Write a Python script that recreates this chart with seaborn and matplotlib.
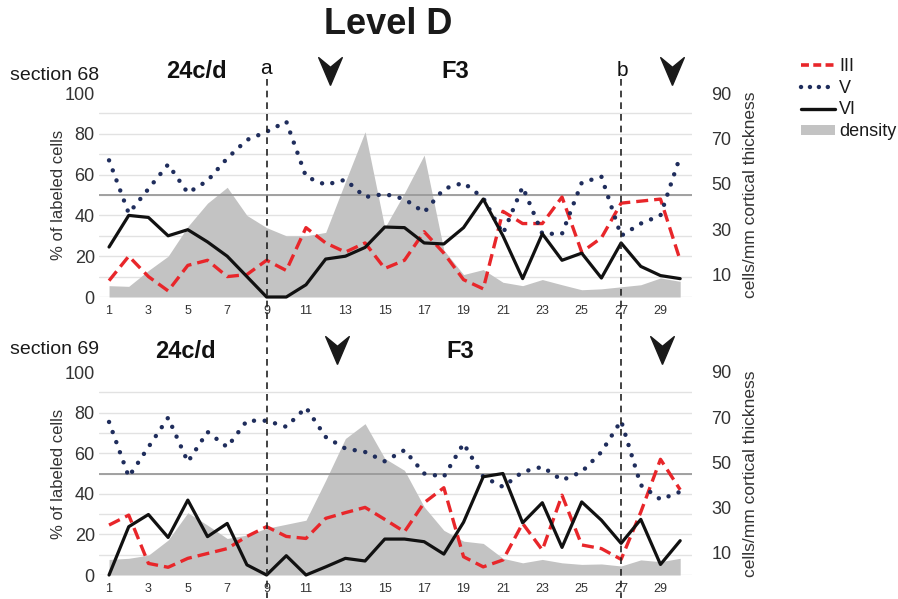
import numpy as np
import pandas as pd
import matplotlib
matplotlib.use("Agg")
import matplotlib.pyplot as plt
import seaborn as sns
from matplotlib.lines import Line2D
from matplotlib.patches import Patch
from matplotlib import transforms

# ---------------- data ----------------
positions = list(range(1, 31))
xtick_labels = list(range(1, 30, 2))

top_III = [8, 20, 10, 3, 15.5, 18, 10, 11, 18, 13, 34, 26.5, 22, 26.5, 14, 18, 32, 21.5, 8.5, 4,
           42, 36, 36, 49, 22, 29, 46, 47, 48, 18]
top_V = [67, 41, 53, 65, 51, 57, 68, 77, 81, 86, 59, 55, 57.5, 49, 50.5, 48, 41.5, 53, 56, 48.5,
         31, 54, 31, 31, 56, 59, 30, 36, 40, 69]
top_VI = [24.5, 40, 39, 30, 33, 27, 20, 10, 0, 0, 6, 18.6, 20, 24.3, 34.3, 34, 26.5, 26, 34, 48,
          30, 9, 31, 18, 21.5, 9.3, 26.5, 15, 10.5, 9]
top_density = [5.0, 4.7, 11.7, 18, 31.1, 41.4, 48.4, 36, 30.6, 27, 27, 28.5, 50.9, 72.9, 30.6,
               45.9, 62.6, 20.7, 9.9, 12.1, 6.5, 5.0, 7.7, 5.4, 3.2, 3.6, 4.5, 5.4, 8.4, 6.9]

bot_III = [24.6, 29.5, 5.7, 3.8, 8.2, 10.6, 13, 19, 23.8, 19, 18, 27.9, 30.7, 33.3, 27.4, 21.3,
           35.6, 43, 9, 4, 7.4, 25.4, 12.3, 39.3, 14.8, 13, 7.7, 31, 57, 42]
bot_V = [75.4, 48.4, 63, 77.5, 55.7, 70.5, 63, 76, 76, 73, 82.5, 68, 62.3, 60.6, 56, 61.5, 50,
         48.4, 64.8, 48.4, 43.4, 50.8, 53.3, 46.7, 50.8, 60.6, 76, 44.3, 37.2, 41]
bot_VI = [0, 23.8, 29.8, 18.5, 36.9, 18.9, 25.4, 5, 0, 9.5, 0, 4, 8.2, 6.9, 17.7, 17.7, 16.4,
          10.3, 26, 48.4, 50, 25.7, 35.6, 13.6, 36, 27, 15.6, 27.4, 5.2, 16.9]
bot_density = [6.9, 7.4, 8.8, 15.5, 27.6, 22.1, 16.2, 17.7, 20.7, 22.5, 24.3, 42, 60.5, 67.1,
               51.7, 46.4, 30.2, 19.8, 15, 14, 7.4, 5.4, 6.9, 5.4, 4.7, 4.9, 4, 6.7, 5.9, 7.4]

left_ticks = [0, 20, 40, 60, 80, 100]
right_ticks = [10, 30, 50, 70, 90]
boundaries = [9, 27]          # dashed lines a, b
arrow_top = [12.2, 29.6]
arrow_bot = [12.6, 29.1]

# ---------------- style ----------------
sns.set_theme(style="white")
plt.rcParams['font.family'] = ['Liberation Sans', 'DejaVu Sans']

RED = "#e8262a"
NAVY = "#1f2d5c"
BLACK = "#111111"
GRAY = "#c3c3c3"
TXT = "#333333"

W, H = 898, 599
fig = plt.figure(figsize=(W / 100, H / 100), dpi=100)


def px(x, y):
    return x / W, 1 - y / H


ax_top = fig.add_axes([99 / W, 1 - 297 / H, 593 / W, 204 / H])
ax_bot = fig.add_axes([99 / W, 1 - 575 / H, 593 / W, 203 / H])

arrow_marker = [(0, -1), (0.85, 1), (0, 0.3), (-0.85, 1), (0, -1)]


def panel(ax, III, V, VI, dens, arrows_x):
    ax2 = ax.twinx()
    ax2.set_zorder(0)
    ax.set_zorder(1)
    ax.patch.set_visible(False)
    # density fill on the right axis
    ax2.fill_between(positions, 0, dens, color=GRAY, lw=0, zorder=2)
    ax2.set_ylim(0, 90)
    ax2.set_yticks(right_ticks)
    ax2.set_yticks(np.arange(0, 91, 9), minor=True)
    ax2.grid(True, which="minor", axis="y", color="#e2e2e2", lw=1.0, zorder=0)
    ax2.grid(False, which="major")
    ax2.set_axisbelow(True)
    ax2.tick_params(axis="y", which="both", length=0, labelsize=13, labelcolor=TXT, pad=14)
    ax2.set_ylabel("cells/mm cortical thickness", fontsize=12.5, color=TXT, labelpad=8)

    ax.axhline(50, color="#9a9a9a", lw=1.3, zorder=1)
    sns.lineplot(x=positions, y=III, ax=ax, color=RED, lw=2.4,
                 linestyle=(0, (3.6, 1.8)), zorder=4, clip_on=False)
    sns.lineplot(x=positions, y=V, ax=ax, color=NAVY, lw=3.2,
                 linestyle=(0, (0.01, 2.4)), dash_capstyle="round", zorder=4, clip_on=False)
    sns.lineplot(x=positions, y=VI, ax=ax, color=BLACK, lw=2.3, zorder=5, clip_on=False)

    ax.set_xlim(0.49, 30.6)
    ax2.set_xlim(0.49, 30.6)
    ax.set_ylim(0, 100)
    ax.set_yticks(left_ticks)
    ax.set_xticks(xtick_labels)
    ax.set_xticklabels([str(t) for t in xtick_labels])
    ax.tick_params(axis="x", length=0, labelsize=9, labelcolor=TXT, pad=6)
    ax.tick_params(axis="y", length=0, labelsize=13, labelcolor=TXT, pad=3)
    ax.set_ylabel("% of labeled cells", fontsize=12, color=TXT, labelpad=-1)
    ax.set_xlabel("")
    for a in (ax, ax2):
        for s in a.spines.values():
            s.set_visible(False)
    ax.grid(False)
    # arrowheads
    for xa in arrows_x:
        ax.plot([xa], [1.11], marker=arrow_marker, ms=20, color="#1a1a1a", lw=0,
                transform=ax.get_xaxis_transform(), clip_on=False, zorder=6)
    return ax2


panel(ax_top, top_III, top_V, top_VI, top_density, arrow_top)
panel(ax_bot, bot_III, bot_V, bot_VI, bot_density, arrow_bot)

# vertical dashed boundaries across both panels
trans = transforms.blended_transform_factory(ax_top.transData, fig.transFigure)
for xb in boundaries:
    fig.add_artist(Line2D([xb, xb], [1 - 79 / H, 1 - 598 / H], transform=trans,
                          color="#222222", lw=1.2, linestyle=(0, (4, 3))))

# texts
fig.text(*px(388, 24), "Level D", fontsize=26, fontweight="bold", ha="center", va="center",
         color="#1a1a1a")
fig.text(*px(10, 75), "section 68", fontsize=14, ha="left", va="center", color="#1a1a1a")
fig.text(*px(196, 72), "24c/d", fontsize=17, fontweight="bold", ha="center", va="center",
         color="#111111")
fig.text(*px(455, 72), "F3", fontsize=17, fontweight="bold", ha="center", va="center",
         color="#111111")
fig.text(*px(266, 68), "a", fontsize=15, ha="center", va="center", color="#111111")
fig.text(*px(622, 70), "b", fontsize=15, ha="center", va="center", color="#111111")

fig.text(*px(10, 350), "section 69", fontsize=14, ha="left", va="center", color="#1a1a1a")
fig.text(*px(185, 352), "24c/d", fontsize=17, fontweight="bold", ha="center", va="center",
         color="#111111")
fig.text(*px(460, 352), "F3", fontsize=17, fontweight="bold", ha="center", va="center",
         color="#111111")

# legend
handles = [
    Line2D([], [], color=RED, lw=2.6, linestyle=(0, (2.2, 1.2))),
    Line2D([], [], color=NAVY, lw=3.2, linestyle=(0, (0.01, 2.0)), dash_capstyle="round"),
    Line2D([], [], color=BLACK, lw=2.4),
    Patch(facecolor=GRAY, edgecolor="none"),
]
fig.legend(handles, ["III", "V", "VI", "density"], loc="upper left",
           bbox_to_anchor=px(801, 58), frameon=False, fontsize=13, handlelength=1.9,
           handleheight=0.5, labelspacing=0.26, handletextpad=0.2, borderaxespad=0,
           borderpad=0, labelcolor="#1a1a1a")

fig.savefig("out.png", dpi=100)
